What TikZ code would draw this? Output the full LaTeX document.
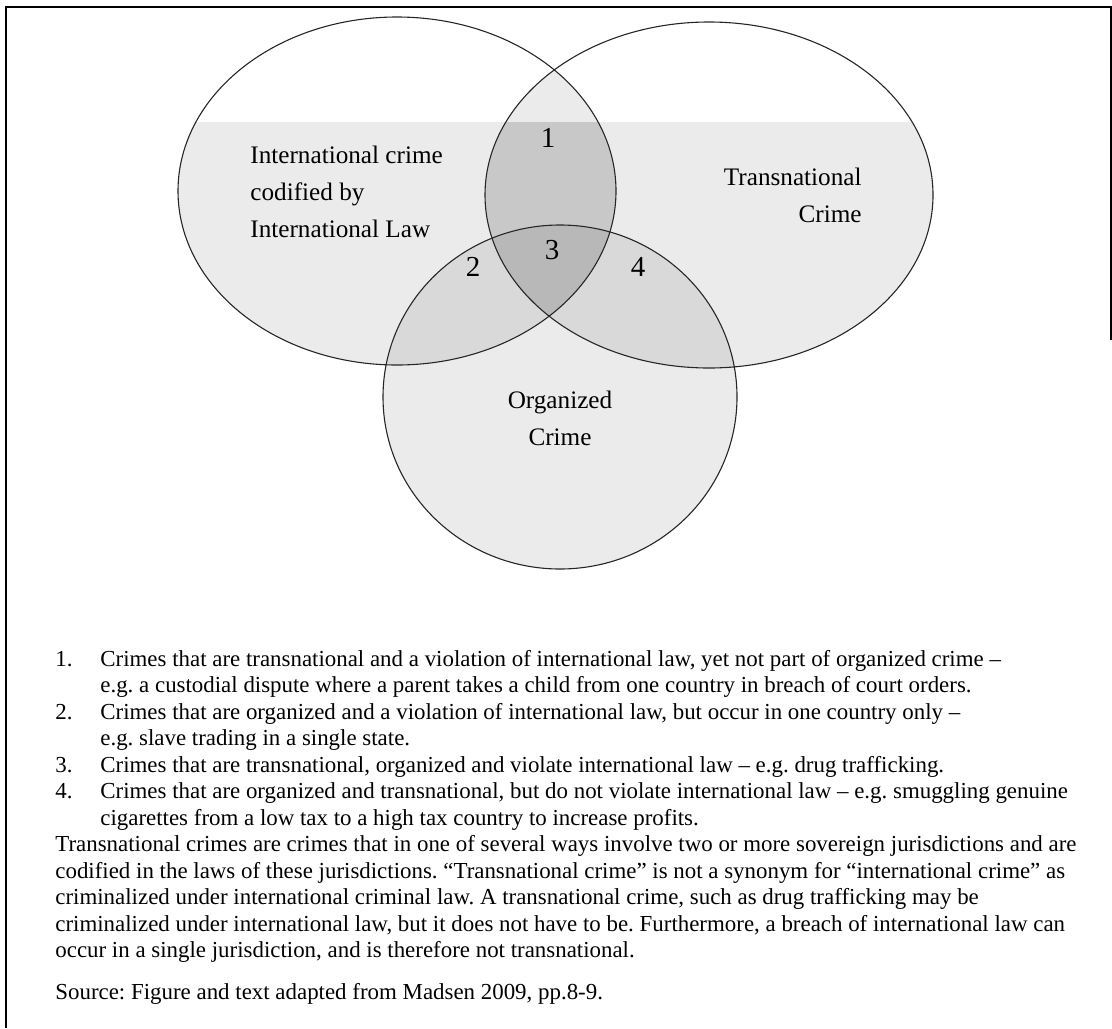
\documentclass[tikz,border=0pt]{standalone}
\usepackage{fontspec}
\setmainfont{Liberation Serif}
\begin{document}
\begin{tikzpicture}[x=0.5pt,y=-0.5pt,
  venn/.style={draw=black!85,line width=0.55pt},
  shade/.style={fill=black,fill opacity=0.08},
  lbl/.style={font=\fontsize{12.6}{18.5}\selectfont,inner sep=0pt},
  num/.style={font=\fontsize{14.5}{16}\selectfont,inner sep=0pt},
  notes/.style={font=\fontsize{11.45}{13.25}\selectfont\frenchspacing,inner sep=0pt,anchor=base west}]
  \useasboundingbox (0,0) rectangle (1112,1028);
  % frame
  \draw[line width=0.6pt] (6,1028) -- (6,7) -- (1111,7) -- (1111,340);
  % shading
  \begin{scope}
    \clip (0,122) rectangle (1112,600);
    \fill[shade] (397,191) ellipse [x radius=219, y radius=174];
    \fill[shade] (709,195) ellipse [x radius=224, y radius=173];
    \fill[shade] (560,397) ellipse [x radius=177, y radius=172];
  \end{scope}
  \begin{scope}
    \clip (397,191) ellipse [x radius=219, y radius=174];
    \fill[shade] (709,195) ellipse [x radius=224, y radius=173];
  \end{scope}
  % the three sets
  \draw[venn] (397,191) ellipse [x radius=219, y radius=174];
  \draw[venn] (709,195) ellipse [x radius=224, y radius=173];
  \draw[venn] (560,397) ellipse [x radius=177, y radius=172];
  \node[lbl,align=left,anchor=base west] (intl) at (250,237) {International crime\\codified by\\International Law};
  \node[lbl,align=right,anchor=base east] (trans) at (862,222) {Transnational\\Crime};
  \node[lbl,align=center,anchor=base] (org) at (560,445) {Organized\\Crime};
  % regions
  \node[num] (r1) at (548,138) {1};
  \node[num] (r2) at (473,267) {2};
  \node[num] (r3) at (552,250) {3};
  \node[num] (r4) at (638,267) {4};
  % notes
  \node[notes] (notes) at (55,666) {\begin{tabular}[t]{@{}p{22.5pt}@{}l@{}}
    1. & Crimes that are transnational and a violation of international law, yet not part of organized crime --\\
       & e.g. a custodial dispute where a parent takes a child from one country in breach of court orders.\\
    2. & Crimes that are organized and a violation of international law, but occur in one country only --\\
       & e.g. slave trading in a single state.\\
    3. & Crimes that are transnational, organized and violate international law -- e.g. drug trafficking.\\
    4. & Crimes that are organized and transnational, but do not violate international law -- e.g. smuggling genuine\\
       & cigarettes from a low tax to a high tax country to increase profits.\\
    \multicolumn{2}{@{}l@{}}{Transnational crimes are crimes that in one of several ways involve two or more sovereign jurisdictions and are}\\
    \multicolumn{2}{@{}l@{}}{codified in the laws of these jurisdictions. ``Transnational crime'' is not a synonym for ``international crime'' as}\\
    \multicolumn{2}{@{}l@{}}{criminalized under international criminal law. A transnational crime, such as drug trafficking may be}\\
    \multicolumn{2}{@{}l@{}}{criminalized under international law, but it does not have to be. Furthermore, a breach of international law can}\\
    \multicolumn{2}{@{}l@{}}{occur in a single jurisdiction, and is therefore not transnational.}\\[7.5pt]
    \multicolumn{2}{@{}l@{}}{Source: Figure and text adapted from Madsen 2009, pp.8-9.}
  \end{tabular}};
\end{tikzpicture}
\end{document}
